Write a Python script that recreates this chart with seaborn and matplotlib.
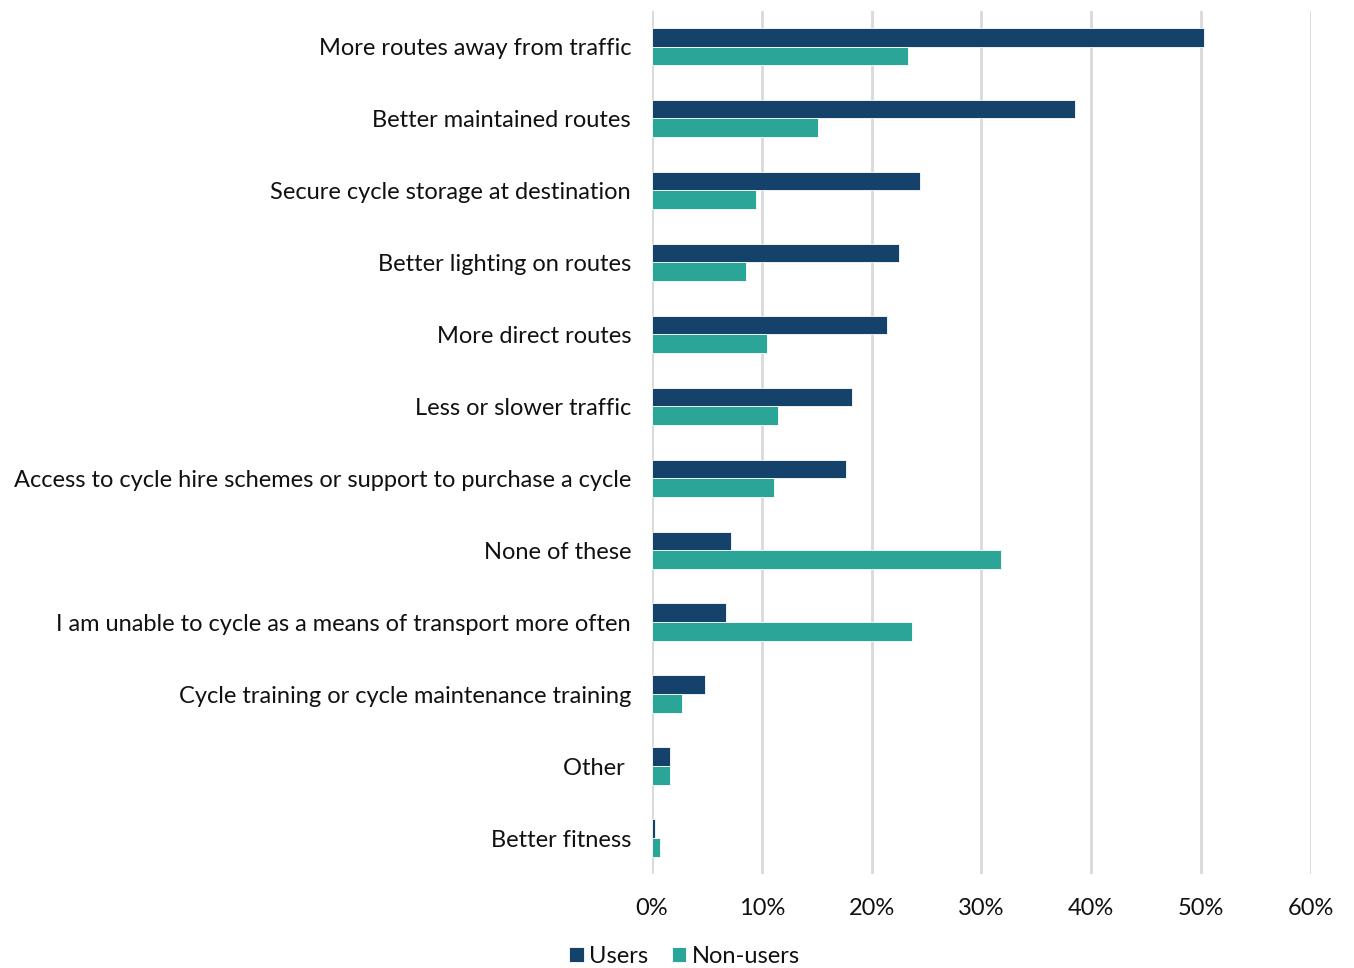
import matplotlib
matplotlib.use("Agg")
import matplotlib.pyplot as plt
import seaborn as sns
import pandas as pd
from matplotlib.ticker import PercentFormatter

categories = [
    "More routes away from traffic",
    "Better maintained routes",
    "Secure cycle storage at destination",
    "Better lighting on routes",
    "More direct routes",
    "Less or slower traffic",
    "Access to cycle hire schemes or support to purchase a cycle",
    "None of these",
    "I am unable to cycle as a means of transport more often",
    "Cycle training or cycle maintenance training",
    "Other ",
    "Better fitness",
]
users = [50.3, 38.5, 24.4, 22.5, 21.4, 18.2, 17.7, 7.2, 6.7, 4.8, 1.6, 0.3]
non_users = [23.3, 15.1, 9.5, 8.6, 10.5, 11.5, 11.1, 31.8, 23.7, 2.7, 1.6, 0.7]
groups = ["Users", "Non-users"]
colors = ["#14426B", "#2AA597"]

df = pd.DataFrame({
    "category": categories * 2,
    "group": [groups[0]] * len(categories) + [groups[1]] * len(categories),
    "value": users + non_users,
})

sns.set_theme(style="white")
plt.rcParams["font.family"] = ["Lato", "DejaVu Sans"]

fig = plt.figure(figsize=(13.54, 9.68), dpi=100)
ax = fig.add_axes([0.4815, 0.0971, 0.4865, 0.892])

sns.barplot(
    data=df, x="value", y="category", hue="group", order=categories,
    hue_order=groups, palette=colors, saturation=1, orient="h", width=0.52,
    edgecolor="white", linewidth=0.6, ax=ax, zorder=3,
)

ax.set_xlim(0, 60)
ax.set_xticks(range(0, 61, 10))
ax.xaxis.set_major_formatter(PercentFormatter(decimals=0))
ax.grid(axis="x", color="#D9D9D9", linewidth=2, zorder=0)
ax.set_axisbelow(True)
for s in ax.spines.values():
    s.set_visible(False)
ax.set_xlabel("")
ax.set_ylabel("")
ax.tick_params(axis="y", length=0, pad=15, labelsize=17, labelcolor="#111111")
ax.tick_params(axis="x", length=0, pad=17, labelsize=17, labelcolor="#111111")

ax.legend(
    loc="center", bbox_to_anchor=(0.05, -0.095), ncol=2, frameon=False,
    fontsize=17, handlelength=0.6, handleheight=0.6, handletextpad=0.25,
    columnspacing=1.0, labelcolor="#111111",
)

fig.savefig("out.png", dpi=100, facecolor="white")
